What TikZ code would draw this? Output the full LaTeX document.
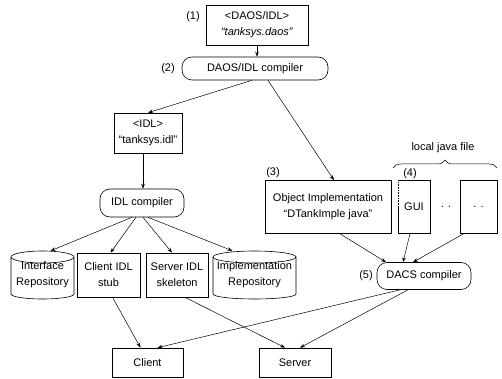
\documentclass[tikz,border=0pt]{standalone}
\usepackage{fontspec}
\setmainfont{Liberation Sans}
\usetikzlibrary{arrows.meta,decorations.pathreplacing,calc}
\begin{document}
\begin{tikzpicture}[x=1pt,y=-1pt,
  font=\fontsize{11}{16}\selectfont,
  box/.style={draw, line width=0.6pt, inner sep=0pt, align=center},
  pill/.style={draw, line width=0.6pt, rounded corners=10pt, inner sep=0pt},
  cyltext/.style={inner sep=0pt, align=center},
  cylline/.style={line width=0.6pt},
  arr/.style={-{Stealth[length=5pt,width=3.6pt]}, line width=0.5pt},
  lbl/.style={inner sep=0pt}]
\useasboundingbox (0,0) rectangle (502,379);

% top
\node[box, minimum width=102pt, minimum height=40pt] (src) at (257,25) {<DAOS/IDL>\\\textit{“tanksys.daos”}};
\node[lbl] (l1) at (193,17) {(1)};
\node[pill, minimum width=146pt, minimum height=23pt] (dic) at (255,68.5) {DAOS/IDL compiler};
\node[lbl] (l2) at (168,68.5) {(2)};

% IDL branch
\node[box, minimum width=68pt, minimum height=40pt] (idl) at (148,133) {<IDL>\\“tanksys.idl”};
\node[pill, minimum width=84pt, minimum height=28pt] (ic) at (142,203) {IDL compiler};

\node[cyltext, minimum width=63pt, minimum height=48pt] (ir) at (42.5,275) {Interface\\Repository};
\draw[cylline] (11,257) -- (11,294) arc[start angle=180,end angle=0,x radius=31.5,y radius=5] -- (74,257);
\draw[cylline] (42.5,257) ellipse [x radius=31.5, y radius=6];

\node[box, minimum width=63pt, minimum height=44pt] (stub) at (108.5,275) {Client IDL\\stub};
\node[box, minimum width=62pt, minimum height=44pt] (skel) at (177,275) {Server IDL\\skeleton};

\node[cyltext, minimum width=83pt, minimum height=48pt] (imr) at (254.5,275) {Implementation\\Repository};
\draw[cylline] (213,257) -- (213,294) arc[start angle=180,end angle=0,x radius=41.5,y radius=5] -- (296,257);
\draw[cylline] (254.5,257) ellipse [x radius=41.5, y radius=6];

% DAOS branch
\node[box, minimum width=126pt, minimum height=53pt] (obj) at (328,207) {Object Implementation\\“DTankImple java”};
\node[lbl] (l3) at (273,173) {(3)};
\node[inner sep=0pt, minimum width=32pt, minimum height=53pt] (gui) at (414,207) {GUI};
\draw[line width=0.6pt] (gui.west) -- (gui.south west) -- (gui.south east) -- (gui.north east) -- (gui.north west);
\draw[line width=0.6pt, densely dotted] (gui.north west) -- (gui.west);
\node[box, minimum width=37pt, minimum height=53pt] (oth) at (478.5,207) {. .};
\node[lbl] (dots) at (446,207) {. .};
\node[lbl] (ljf) at (443,148) {local java file};
\coordinate (bl) at (393,168);
\coordinate (br) at (497,168);
\draw[decorate, decoration={brace, amplitude=8pt}, line width=0.5pt] (bl) -- (br);
\node[lbl] (l4) at (410,174) {(4)};

\node[pill, minimum width=94pt, minimum height=27pt] (dc) at (424,276) {DACS compiler};
\node[lbl] (l5) at (366,276) {(5)};

% bottom
\node[box, minimum width=71pt, minimum height=29pt] (cl) at (147.5,362.5) {Client};
\node[box, minimum width=72pt, minimum height=29pt] (sv) at (295,362.5) {Server};

% arrows
\draw[arr] (src.south) -- (src.south |- dic.north);
\draw[arr] ([xshift=-3pt]dic.south) -- (idl.north);
\draw[arr] ([xshift=13pt]dic.south) -- ([xshift=6pt]obj.north);
\draw[arr] ([xshift=-5pt]idl.south) -- ([xshift=-5pt]idl.south |- ic.north);
\draw[arr] ([xshift=-10pt]ic.south) -- ([xshift=8pt]ir.north);
\draw[arr] ([xshift=-6pt]ic.south) -- ([xshift=2pt]stub.north);
\draw[arr] ([xshift=1pt]ic.south) -- ([xshift=-5pt]skel.north);
\draw[arr] ([xshift=6pt]ic.south) -- ([xshift=-22pt]imr.north);
\draw[arr] ([xshift=12pt]obj.south) -- ([xshift=-38pt]dc.north);
\draw[arr] ([xshift=-4pt]gui.south) -- ([xshift=-21pt]dc.north);
\draw[arr] ([xshift=-15pt]oth.south) -- ([xshift=-11pt]dc.north);
\draw[arr] ([xshift=-24pt]dc.south) -- ([xshift=10pt]cl.north);
\draw[arr] ([xshift=-16pt]dc.south) -- ([xshift=5pt]sv.north);
\draw[arr] ([xshift=4pt]stub.south) -- ([xshift=-7pt]cl.north);
\draw[arr] ([xshift=8pt]skel.south) -- ([xshift=-10pt]sv.north);
\end{tikzpicture}
\end{document}
